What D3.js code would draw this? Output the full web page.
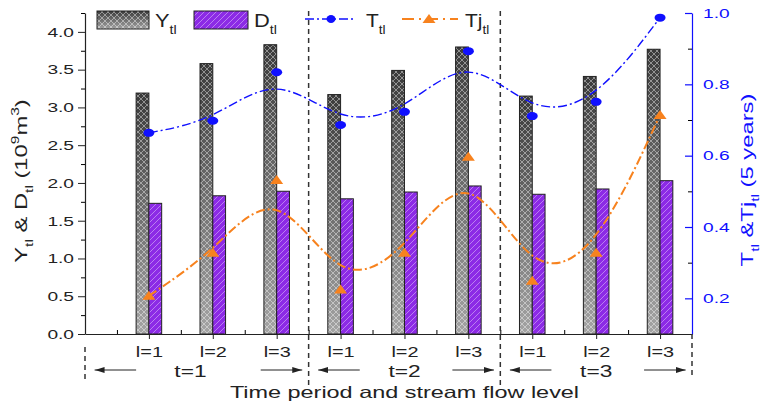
<!DOCTYPE html>
<html>
<head>
<meta charset="utf-8">
<script src="https://cdn.jsdelivr.net/npm/d3@7"></script>
<style>
  body { margin: 0; background: #fff; }
  text { font-family: "Liberation Sans", Arial, sans-serif; }
</style>
</head>
<body>
<svg id="chart" width="763" height="404"></svg>
<script>
// Data
const levels = ["l=1", "l=2", "l=3", "l=1", "l=2", "l=3", "l=1", "l=2", "l=3"];
const periods = ["t=1", "t=2", "t=3"];
const yieldY = [3.19, 3.58, 3.83, 3.17, 3.49, 3.80, 3.15, 3.41, 3.77];
const demandD = [1.73, 1.83, 1.89, 1.79, 1.88, 1.96, 1.85, 1.92, 2.03];
const seriesT = [0.664, 0.698, 0.834, 0.686, 0.723, 0.893, 0.711, 0.751, 0.987];
const seriesTj = [0.207, 0.328, 0.532, 0.225, 0.328, 0.597, 0.249, 0.328, 0.714];
const leftTicks = [0.0, 0.5, 1.0, 1.5, 2.0, 2.5, 3.0, 3.5, 4.0];
const rightTicks = [0.2, 0.4, 0.6, 0.8, 1.0];

const SX = 1.42; // the original text is drawn wide
const dark = "#222";
const blue = "#1010ff";
const orange = "#f7821e";
const purple = "#8c2ae6";

const svg = d3.select("#chart");

const x = d3.scaleLinear().domain([0, 9.5]).range([85, 692]);
const y = d3.scaleLinear().domain([0, 4.25]).range([334, 13]);
const y2 = d3.scaleLinear().domain([0.1, 1.0]).range([334, 13]);
const barW = x(0.2) - x(0);

// Patterns and gradient
const defs = svg.append("defs");
const grad = defs.append("linearGradient").attr("id", "gradY")
    .attr("x1", 0).attr("y1", 0).attr("x2", 0).attr("y2", 1);
grad.append("stop").attr("offset", "0%").attr("stop-color", "#3a3a3a");
grad.append("stop").attr("offset", "100%").attr("stop-color", "#a4a4a4");

const cross = defs.append("pattern").attr("id", "cross")
    .attr("width", 6).attr("height", 6).attr("patternUnits", "userSpaceOnUse");
cross.append("path").attr("d", "M0,0 L6,6 M6,0 L0,6")
    .attr("stroke", "#fff").attr("stroke-opacity", 0.55).attr("stroke-width", 0.8);

const diag = defs.append("pattern").attr("id", "diag")
    .attr("width", 6).attr("height", 6).attr("patternUnits", "userSpaceOnUse");
diag.append("path").attr("d", "M-1,7 L7,-1 M-4,4 L4,-4 M2,10 L10,2")
    .attr("stroke", "#fff").attr("stroke-opacity", 0.5).attr("stroke-width", 0.8);

defs.append("marker").attr("id", "arrow")
    .attr("viewBox", "0 0 10 6").attr("refX", 10).attr("refY", 3)
    .attr("markerWidth", 10).attr("markerHeight", 6)
    .attr("markerUnits", "userSpaceOnUse").attr("orient", "auto")
    .append("path").attr("d", "M0,0 L10,3 L0,6 z").attr("fill", dark);

// Text with subscripts / superscripts, stretched along the baseline
function label(x0, y0, parts, o = {}) {
    const size = o.size || 14;
    const t = svg.append("text")
        .attr("transform", `translate(${x0},${y0}) rotate(${o.rot || 0}) scale(${o.sx || SX},1)`)
        .attr("text-anchor", o.anchor || "start")
        .style("font-size", size + "px")
        .style("fill", o.color || dark);
    let shift = 0;
    parts.forEach(p => {
        const kind = typeof p === "string" ? "n" : (p.sub ? "sub" : "sup");
        const txt = typeof p === "string" ? p : (p.sub || p.sup);
        const target = kind === "sub" ? size * 0.35 : kind === "sup" ? -size * 0.45 : 0;
        t.append("tspan")
            .attr("dy", target - shift)
            .style("font-size", kind === "n" ? size + "px" : size * 0.65 + "px")
            .text(txt);
        shift = target;
    });
    return t;
}

// Bars
const idx = d3.range(levels.length);
svg.append("g").selectAll("rect").data(idx).join("rect")
    .attr("x", i => x(i + 1) - barW).attr("y", i => y(yieldY[i]))
    .attr("width", barW).attr("height", i => y(0) - y(yieldY[i]))
    .attr("fill", "url(#gradY)");
svg.append("g").selectAll("rect").data(idx).join("rect")
    .attr("x", i => x(i + 1) - barW).attr("y", i => y(yieldY[i]))
    .attr("width", barW).attr("height", i => y(0) - y(yieldY[i]))
    .attr("fill", "url(#cross)").attr("stroke", dark).attr("stroke-width", 1);
svg.append("g").selectAll("rect").data(idx).join("rect")
    .attr("x", i => x(i + 1)).attr("y", i => y(demandD[i]))
    .attr("width", barW).attr("height", i => y(0) - y(demandD[i]))
    .attr("fill", purple);
svg.append("g").selectAll("rect").data(idx).join("rect")
    .attr("x", i => x(i + 1)).attr("y", i => y(demandD[i]))
    .attr("width", barW).attr("height", i => y(0) - y(demandD[i]))
    .attr("fill", "url(#diag)").attr("stroke", dark).attr("stroke-width", 1);

// Axes
const leftAxis = svg.append("g").attr("transform", `translate(${x(0)},0)`)
    .call(d3.axisLeft(y).tickValues(leftTicks).tickFormat(d3.format(".1f"))
        .tickSize(7).tickSizeOuter(0).tickPadding(4));
svg.append("g").attr("transform", `translate(${x(0)},0)`)
    .call(d3.axisLeft(y).tickValues(leftTicks.map(d => d + 0.25)).tickFormat("").tickSize(4).tickSizeOuter(0))
    .select(".domain").remove();
leftAxis.selectAll(".tick text")
    .attr("x", -11 / SX).attr("transform", `scale(${SX},1)`)
    .style("font-size", "13.5px").style("fill", dark);

const rightAxis = svg.append("g").attr("transform", `translate(${x(9.5)},0)`)
    .call(d3.axisRight(y2).tickValues(rightTicks).tickFormat(d3.format(".1f"))
        .tickSize(-7).tickSizeOuter(0).tickPadding(11));
svg.append("g").attr("transform", `translate(${x(9.5)},0)`)
    .call(d3.axisRight(y2).tickValues([0.1, 0.3, 0.5, 0.7, 0.9]).tickFormat("").tickSize(-4).tickSizeOuter(0))
    .select(".domain").remove();
rightAxis.selectAll(".tick text")
    .attr("x", 11 / SX).attr("transform", `scale(${SX},1)`)
    .style("font-size", "13.5px").style("fill", blue);
rightAxis.selectAll("line, path").attr("stroke", blue).attr("stroke-width", 1.2);
svg.selectAll("g").filter(function () { return false; });

const bottomAxis = svg.append("g").attr("transform", `translate(0,${y(0)})`)
    .call(d3.axisBottom(x).tickValues(idx.map(i => i + 1)).tickFormat(i => levels[i - 1])
        .tickSize(5).tickSizeOuter(0).tickPadding(8));
svg.append("g").attr("transform", `translate(0,${y(0)})`)
    .call(d3.axisBottom(x).tickValues(d3.range(0.5, 9.5, 1)).tickFormat("").tickSize(-4).tickSizeOuter(0))
    .select(".domain").remove();
bottomAxis.selectAll(".tick text")
    .attr("transform", `scale(${SX},1)`)
    .style("font-size", "14px").style("fill", dark);

svg.selectAll(".domain").attr("stroke-width", 1.2);
leftAxis.selectAll("line, path").attr("stroke", dark);
bottomAxis.selectAll("line, path").attr("stroke", dark);

// Period separators
const bounds = [0, 3.5, 6.5, 9.5];
const sep = svg.append("g").attr("stroke", "#333").attr("stroke-width", 1.5).attr("stroke-dasharray", "5,4");
sep.append("line").attr("x1", x(0)).attr("x2", x(0)).attr("y1", 347).attr("y2", 383);
sep.append("line").attr("x1", x(3.5)).attr("x2", x(3.5)).attr("y1", 11).attr("y2", 386);
sep.append("line").attr("x1", x(6.5)).attr("x2", x(6.5)).attr("y1", 11).attr("y2", 386);
sep.append("line").attr("x1", x(9.5)).attr("x2", x(9.5)).attr("y1", 334).attr("y2", 376);

// Period arrows and labels
const arrowY = 370;
const periodLabelPos = [1.65, 5, 8];
periods.forEach((p, k) => {
    const a = bounds[k], b = bounds[k + 1];
    svg.append("line").attr("x1", x(a + 0.8)).attr("x2", x(a + 0.15))
        .attr("y1", arrowY).attr("y2", arrowY)
        .attr("stroke", dark).attr("stroke-width", 1).attr("marker-end", "url(#arrow)");
    svg.append("line").attr("x1", x(b - 0.75)).attr("x2", x(b - 0.1))
        .attr("y1", arrowY).attr("y2", arrowY)
        .attr("stroke", dark).attr("stroke-width", 1).attr("marker-end", "url(#arrow)");
    label(x(periodLabelPos[k]), 376.5, [p], { size: 16, anchor: "middle" });
});

// Smoothed lines
const lineT = d3.line().x((d, i) => x(i + 1)).y(d => y2(d)).curve(d3.curveBasis);
svg.append("path").attr("d", lineT(seriesT))
    .attr("fill", "none").attr("stroke", blue).attr("stroke-width", 1.4)
    .attr("stroke-dasharray", "9,3,2,3");
svg.append("path").attr("d", lineT(seriesTj))
    .attr("fill", "none").attr("stroke", orange).attr("stroke-width", 2)
    .attr("stroke-dasharray", "9,3,2,3");

// Markers
svg.append("g").selectAll("ellipse").data(seriesT).join("ellipse")
    .attr("cx", (d, i) => x(i + 1)).attr("cy", d => y2(d))
    .attr("rx", 5.5).attr("ry", 4).attr("fill", blue);
const tri = "M0,-5 L6.5,4 L-6.5,4 Z";
svg.append("g").selectAll("path").data(seriesTj).join("path")
    .attr("transform", (d, i) => `translate(${x(i + 1)},${y2(d)})`)
    .attr("d", tri).attr("fill", orange);

// Legend
svg.append("rect").attr("x", 97).attr("y", 11).attr("width", 52).attr("height", 18).attr("fill", "url(#gradY)");
svg.append("rect").attr("x", 97).attr("y", 11).attr("width", 52).attr("height", 18)
    .attr("fill", "url(#cross)").attr("stroke", dark);
label(155, 27, ["Y", { sub: "tl" }], { size: 19, sx: 1.15 });
svg.append("rect").attr("x", 194).attr("y", 11).attr("width", 54).attr("height", 18).attr("fill", purple);
svg.append("rect").attr("x", 194).attr("y", 11).attr("width", 54).attr("height", 18)
    .attr("fill", "url(#diag)").attr("stroke", dark);
label(254, 27, ["D", { sub: "tl" }], { size: 19, sx: 1.15 });

svg.append("line").attr("x1", 305).attr("x2", 355).attr("y1", 19).attr("y2", 19)
    .attr("stroke", blue).attr("stroke-width", 1.4).attr("stroke-dasharray", "9,3,2,3");
svg.append("ellipse").attr("cx", 331).attr("cy", 19).attr("rx", 4.5).attr("ry", 4).attr("fill", blue);
label(366, 27, ["T", { sub: "tl" }], { size: 19, sx: 1.1 });
svg.append("line").attr("x1", 402).attr("x2", 458).attr("y1", 19).attr("y2", 19)
    .attr("stroke", orange).attr("stroke-width", 2).attr("stroke-dasharray", "12,5,2,5");
svg.append("path").attr("transform", "translate(429,19)").attr("d", tri).attr("fill", orange);
label(465, 27, ["Tj", { sub: "tl" }], { size: 19, sx: 1.1 });

// Axis titles
label(x(5), 398, ["Time period and stream flow level"], { size: 16.5, anchor: "middle" });
label(27, 181, ["Y", { sub: "tl" }, " & D", { sub: "tl" }, " (10", { sup: "9" }, "m", { sup: "3" }, ")"],
    { size: 17, rot: -90, anchor: "middle", sx: 1.4 });
label(753, 180, ["T", { sub: "tl" }, " &Tj", { sub: "tl" }, " (5 years)"],
    { size: 17, rot: -90, anchor: "middle", sx: 1.4, color: blue });
</script>
</body>
</html>
